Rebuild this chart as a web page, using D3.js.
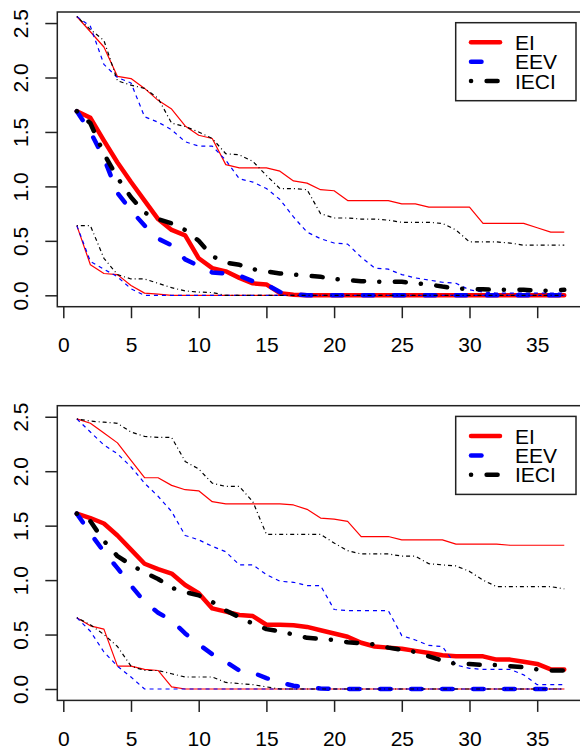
<!DOCTYPE html>
<html><head><meta charset="utf-8">
<script src="https://cdn.jsdelivr.net/npm/d3@7"></script>
<style>body{margin:0;background:#fff} svg{display:block}</style>
</head><body>
<svg id="c" width="580" height="751"></svg>
<script>
// ---------- data ----------
const iterations = [1,2,3,4,5,6,7,8,9,10,11,12,13,14,15,16,17,18,19,20,21,22,23,24,25,26,27,28,29,30,31,32,33,34,35,36,37];
const xTicks = [0,5,10,15,20,25,30,35];
const yTicks = [0,0.5,1,1.5,2,2.5];
const yTickLabels = ["0.0","0.5","1.0","1.5","2.0","2.5"];
const seriesNames = ["EI","EEV","IECI"];

// Panel 1
const ei1Mean  = [1.69,1.63,1.42,1.22,1.04,0.87,0.70,0.60,0.55,0.34, 0.25,0.22,0.16,0.11,0.10,0.02,0.005,0,0,0, 0,0,0,0,0,0,0,0,0,0, 0,0,0,0,0,0,0];
const ei1Upper = [2.56,2.42,2.28,2.01,1.99,1.90,1.79,1.71,1.555,1.47, 1.44,1.20,1.17,1.17,1.17,1.14,1.05,1.03,0.97,0.96, 0.87,0.87,0.87,0.87,0.84,0.84,0.81,0.81,0.81,0.81, 0.66,0.66,0.66,0.66,0.62,0.58,0.58];
const ei1Lower = [0.64,0.28,0.20,0.19,0.09,0.02,0.01,0,0,0, 0,0,0,0,0,0,0,0,0,0, 0,0,0,0,0,0,0,0,0,0, 0,0,0,0,0,0,0];
const eev1Mean  = [1.69,1.50,1.26,0.94,0.78,0.64,0.52,0.46,0.33,0.27, 0.21,0.20,0.18,0.13,0.10,0.03,0.01,0,0,0, 0,0,0,0,0,0,0,0,0,0, 0,0,0,0,0,0,0];
const eev1Upper = [2.56,2.47,2.12,2.00,1.95,1.64,1.59,1.52,1.41,1.37, 1.37,1.24,1.07,1.04,0.98,0.88,0.72,0.58,0.52,0.48, 0.47,0.35,0.25,0.24,0.19,0.16,0.14,0.12,0.11,0.05, 0.03,0.02,0.02,0.02,0.02,0.02,0.02];
const eev1Lower = [0.64,0.31,0.24,0.17,0.06,0,0,0,0,0, 0,0,0,0,0,0,0,0,0,0, 0,0,0,0,0,0,0,0,0,0, 0,0,0,0,0,0,0];
const ieci1Mean  = [1.69,1.58,1.30,1.08,0.90,0.76,0.70,0.66,0.60,0.50, 0.36,0.30,0.28,0.24,0.22,0.20,0.19,0.18,0.17,0.15, 0.14,0.13,0.125,0.125,0.125,0.11,0.10,0.08,0.065,0.055, 0.055,0.05,0.05,0.05,0.045,0.04,0.05];
const ieci1Upper = [2.56,2.44,2.34,1.97,1.93,1.90,1.81,1.58,1.55,1.50, 1.44,1.30,1.29,1.23,1.10,0.98,0.98,0.97,0.75,0.71, 0.71,0.70,0.70,0.69,0.67,0.67,0.67,0.66,0.60,0.49, 0.49,0.49,0.48,0.46,0.46,0.46,0.46];
const ieci1Lower = [0.64,0.64,0.34,0.19,0.15,0.15,0.11,0.07,0.04,0.03, 0.025,0,0,0,0,0,0,0,0,0, 0,0,0,0,0,0,0,0,0,0, 0,0,0,0,0,0,0];

// Panel 2
const ei2Mean  = [1.61,1.57,1.52,1.41,1.28,1.15,1.10,1.06,0.955,0.88, 0.74,0.71,0.68,0.67,0.59,0.59,0.585,0.57,0.54,0.51, 0.48,0.425,0.39,0.38,0.37,0.35,0.33,0.31,0.30,0.30, 0.30,0.27,0.27,0.25,0.23,0.18,0.18];
const ei2Upper = [2.48,2.44,2.35,2.26,2.10,1.94,1.94,1.87,1.83,1.82, 1.72,1.70,1.70,1.70,1.70,1.70,1.69,1.65,1.57,1.56, 1.54,1.40,1.40,1.40,1.37,1.37,1.37,1.37,1.33,1.33, 1.33,1.33,1.32,1.32,1.32,1.32,1.32];
const ei2Lower = [0.655,0.58,0.55,0.21,0.21,0.18,0.17,0.02,0,0, 0,0,0,0,0,0,0,0,0,0, 0,0,0,0,0,0,0,0,0,0, 0,0,0,0,0,0,0];
const eev2Mean  = [1.61,1.43,1.26,1.11,0.95,0.80,0.70,0.63,0.51,0.41, 0.32,0.25,0.17,0.15,0.10,0.06,0.03,0.015,0.005,0, 0,0,0,0,0,0,0,0,0,0, 0,0,0,0,0,0,0];
const eev2Upper = [2.48,2.36,2.24,2.16,2.04,1.89,1.77,1.63,1.41,1.37, 1.31,1.26,1.14,1.14,1.05,0.99,0.98,0.95,0.95,0.73, 0.72,0.72,0.72,0.72,0.49,0.45,0.40,0.39,0.22,0.19, 0.18,0.18,0.18,0.13,0.04,0.04,0.04];
const eev2Lower = [0.655,0.53,0.34,0.21,0.11,0,0,0,0,0, 0,0,0,0,0,0,0,0,0,0, 0,0,0,0,0,0,0,0,0,0, 0,0,0,0,0,0,0];
const ieci2Mean  = [1.61,1.54,1.36,1.22,1.14,1.07,1.01,0.93,0.89,0.86, 0.80,0.72,0.66,0.60,0.55,0.53,0.50,0.47,0.46,0.45, 0.43,0.42,0.41,0.38,0.36,0.34,0.30,0.26,0.23,0.23, 0.22,0.22,0.21,0.20,0.18,0.17,0.17];
const ieci2Upper = [2.48,2.46,2.45,2.44,2.36,2.32,2.31,2.31,2.09,2.02, 1.89,1.86,1.86,1.72,1.42,1.42,1.42,1.42,1.42,1.34, 1.27,1.24,1.24,1.24,1.22,1.22,1.15,1.14,1.13,1.08, 1.00,0.94,0.94,0.94,0.94,0.94,0.92];
const ieci2Lower = [0.655,0.59,0.50,0.39,0.21,0.17,0.17,0.14,0.11,0.11, 0.11,0.06,0.05,0.04,0.02,0,0,0,0,0, 0,0,0,0,0,0,0,0,0,0, 0,0,0,0,0,0,0];

// ---------- drawing ----------
const svg = d3.select("#c");
const FONT = "'Liberation Sans', Arial, Helvetica, sans-serif";
const styles = {
  EI:   {color:"#ff0000", thick:null,              thin:null},
  EEV:  {color:"#0000ff", thick:"10.5,20.5",       thin:"4,4"},
  IECI: {color:"#000000", thick:"0.1,15.5,11,15.1", thin:"1,3,4,3"}
};

function drawPanel(off, seriesData) {
  const x = d3.scaleLinear().domain([0,35]).range([63.3, 537.2]);
  const y = d3.scaleLinear().domain([0,2.5]).range([295.3 + off, 23.05 + off]);
  const g = svg.append("g");
  const line = d3.line().x((d,i)=>x(iterations[i])).y(d=>y(d));

  seriesData.forEach(s => {
    const st = styles[s.name];
    g.append("path").datum(s.mean).attr("d", line)
      .attr("fill","none").attr("stroke", st.color).attr("stroke-width",4.5)
      .attr("stroke-linecap","round").attr("stroke-linejoin","round")
      .attr("stroke-dasharray", st.thick);
    [s.upper, s.lower].forEach(arr => {
      g.append("path").datum(arr).attr("d", line)
        .attr("fill","none").attr("stroke", st.color).attr("stroke-width",1.2)
        .attr("stroke-linejoin","round")
        .attr("stroke-dasharray", st.thin);
    });
  });

  // box
  g.append("rect").attr("x",57.3).attr("y",12+off).attr("width",526.5).attr("height",294.7)
    .attr("fill","none").attr("stroke","#222").attr("stroke-width",1.5);

  // x axis
  const xa = g.append("g").attr("transform",`translate(0,${306.7+off})`)
    .call(d3.axisBottom(x).tickValues(xTicks).tickSize(11.5).tickSizeOuter(0));
  xa.select(".domain").remove();
  xa.selectAll("line").attr("stroke","#222").attr("stroke-width",1.5);
  xa.selectAll("text").attr("y",45.3).attr("dy",null)
    .attr("font-family",FONT).attr("font-size",21).attr("fill","#000");

  // y axis
  const ya = g.append("g").attr("transform",`translate(57.3,0)`)
    .call(d3.axisLeft(y).tickValues(yTicks).tickFormat((d,i)=>yTickLabels[i]).tickSize(12).tickSizeOuter(0));
  ya.select(".domain").remove();
  ya.selectAll("line").attr("stroke","#222").attr("stroke-width",1.5);
  ya.selectAll("text").attr("x",null).attr("dy",null).attr("text-anchor","middle")
    .attr("transform","translate(-29.3,0) rotate(-90)")
    .attr("font-family",FONT).attr("font-size",21).attr("fill","#000");

  // legend
  const lg = g.append("g").attr("transform",`translate(455.7,${22.7+off})`);
  lg.append("rect").attr("width",120.3).attr("height",78).attr("fill","#fff")
    .attr("stroke","#222").attr("stroke-width",1.5);
  const rows = [19.6, 39, 58.3];
  seriesNames.forEach((nm,i) => {
    const st = styles[nm];
    lg.append("line").attr("x1",15.3).attr("x2",44.3).attr("y1",rows[i]).attr("y2",rows[i])
      .attr("stroke",st.color).attr("stroke-width",4.5).attr("stroke-linecap","round")
      .attr("stroke-dasharray",st.thick);
    lg.append("text").attr("x",59.3).attr("y",rows[i]+7.6).text(nm)
      .attr("font-family",FONT).attr("font-size",21).attr("fill","#000");
  });
}

drawPanel(0, [
  {name:"EI",   mean:ei1Mean,   upper:ei1Upper,   lower:ei1Lower},
  {name:"EEV",  mean:eev1Mean,  upper:eev1Upper,  lower:eev1Lower},
  {name:"IECI", mean:ieci1Mean, upper:ieci1Upper, lower:ieci1Lower}
]);
drawPanel(393.7, [
  {name:"EI",   mean:ei2Mean,   upper:ei2Upper,   lower:ei2Lower},
  {name:"EEV",  mean:eev2Mean,  upper:eev2Upper,  lower:eev2Lower},
  {name:"IECI", mean:ieci2Mean, upper:ieci2Upper, lower:ieci2Lower}
]);
</script>
</body></html>
